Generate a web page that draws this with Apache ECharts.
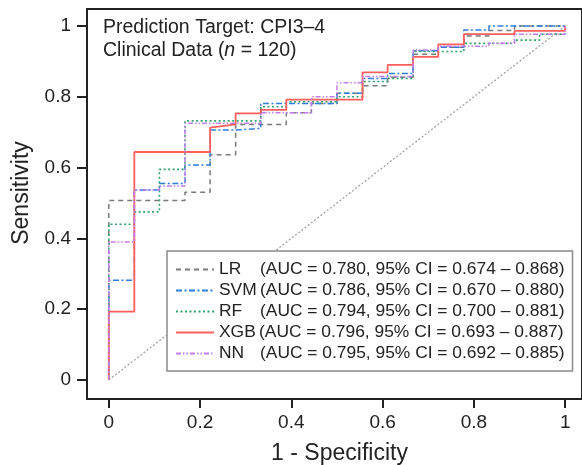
<!DOCTYPE html>
<html><head><meta charset="utf-8">
<script src="https://cdn.jsdelivr.net/npm/echarts@6/dist/echarts.min.js"></script>
<style>html,body{margin:0;padding:0;background:#fff}#c{width:582px;height:465px}</style>
</head><body><div id="c"></div>
<script>
// ---- data ----
const modelNames = ['LR', 'SVM', 'RF', 'XGB', 'NN'];
const aucLabels = [
  '(AUC = 0.780, 95% CI = 0.674 \u2013 0.868)',
  '(AUC = 0.786, 95% CI = 0.670 \u2013 0.880)',
  '(AUC = 0.794, 95% CI = 0.700 \u2013 0.881)',
  '(AUC = 0.796, 95% CI = 0.693 \u2013 0.887)',
  '(AUC = 0.795, 95% CI = 0.692 \u2013 0.885)'
];
const tickValues = [0, 0.2, 0.4, 0.6, 0.8, 1];

const lrFpr = [0,0,0.167,0.167,0.222,0.222,0.278,0.278,0.389,0.389,0.444,0.444,0.5,0.5,0.556,0.556,0.611,0.611,0.667,0.667,0.722,0.722,0.778,0.778,0.833,0.833,0.889,0.889,1];
const lrTpr = [0,0.507,0.507,0.53,0.53,0.636,0.636,0.722,0.722,0.755,0.755,0.781,0.781,0.81,0.81,0.831,0.831,0.855,0.855,0.92,0.92,0.94,0.94,0.972,0.972,0.987,0.987,1,1];

const svmFpr = [0,0,0.056,0.056,0.111,0.111,0.167,0.167,0.222,0.222,0.278,0.278,0.333,0.333,0.5,0.5,0.556,0.556,0.611,0.611,0.667,0.667,0.722,0.722,0.778,0.778,0.833,0.833,1];
const svmTpr = [0,0.282,0.282,0.537,0.537,0.555,0.555,0.607,0.607,0.706,0.706,0.711,0.711,0.781,0.781,0.81,0.81,0.852,0.852,0.866,0.866,0.93,0.93,0.94,0.94,0.989,0.989,1,1];

const rfFpr = [0,0,0.056,0.056,0.111,0.111,0.167,0.167,0.333,0.333,0.389,0.389,0.5,0.5,0.556,0.556,0.611,0.611,0.667,0.667,0.778,0.778,0.889,0.889,0.944,0.944,1,1];
const rfTpr = [0,0.44,0.44,0.475,0.475,0.595,0.595,0.732,0.732,0.772,0.772,0.786,0.786,0.80,0.80,0.843,0.843,0.852,0.852,0.928,0.928,0.951,0.951,0.96,0.96,0.977,0.977,1];

const xgbFpr = [0,0,0.056,0.056,0.222,0.222,0.278,0.278,0.333,0.333,0.389,0.389,0.556,0.556,0.611,0.611,0.667,0.667,0.722,0.722,0.778,0.778,0.889,0.889,1,1];
const xgbTpr = [0,0.193,0.193,0.644,0.644,0.713,0.722,0.753,0.753,0.763,0.763,0.792,0.792,0.869,0.869,0.89,0.89,0.913,0.913,0.948,0.948,0.977,0.977,0.986,0.986,1];

const nnFpr = [0,0,0.056,0.056,0.111,0.111,0.167,0.167,0.333,0.333,0.444,0.444,0.5,0.5,0.556,0.556,0.667,0.667,0.722,0.722,0.833,0.833,0.889,0.889,1,1];
const nnTpr = [0,0.39,0.39,0.537,0.537,0.548,0.548,0.725,0.725,0.755,0.755,0.80,0.80,0.84,0.84,0.857,0.857,0.932,0.932,0.943,0.943,0.951,0.951,0.977,0.977,1];

const chanceFpr = [0, 1];
const chanceTpr = [0, 1];

// ---- styling ----
const FONT = '"Liberation Sans", Arial, Helvetica, sans-serif';
const styles = {
  LR:  { color: '#7a7a7a', width: 1.5, type: [5, 4] },
  SVM: { color: '#2f7de1', width: 1.5, type: [6, 2.5, 2, 2.5] },
  RF:  { color: '#2fa36b', width: 1.6, type: [2, 2.5] },
  XGB: { color: '#ff5e5e', width: 1.8, type: 'solid' },
  NN:  { color: '#c27ef0', width: 1.5, type: [5, 2, 1.5, 2, 1.5, 2] }
};
const fprs = [lrFpr, svmFpr, rfFpr, xgbFpr, nnFpr];
const tprs = [lrTpr, svmTpr, rfTpr, xgbTpr, nnTpr];
const pairs = (xs, ys) => xs.map((x, i) => [x, ys[i]]);

const series = [{
  type: 'line', name: 'chance', data: pairs(chanceFpr, chanceTpr),
  symbol: 'none', silent: true, z: 1,
  lineStyle: { color: '#9c9c9c', width: 1.2, type: [2, 2] }
}];
modelNames.forEach((n, i) => {
  const s = styles[n];
  series.push({
    type: 'line', name: n, data: pairs(fprs[i], tprs[i]),
    symbol: 'none', z: 2 + i,
    itemStyle: { color: s.color },
    lineStyle: { color: s.color, width: s.width, type: s.type }
  });
});

const chart = echarts.init(document.getElementById('c'), null, { renderer: 'canvas' });
const axisCommon = {
  type: 'value',
  splitLine: { show: false },
  axisLine: { show: false, onZero: false },
  axisTick: { show: true, customValues: tickValues, lineStyle: { color: '#222', width: 2 } },
  axisLabel: { customValues: tickValues, color: '#222', fontSize: 19, fontFamily: FONT,
               formatter: v => String(v) }
};
chart.setOption({
  animation: false,
  backgroundColor: '#fff',
  grid: { left: 87, top: 9, width: 500, height: 390, show: true,
          borderColor: '#222', borderWidth: 2, backgroundColor: 'transparent' },
  xAxis: Object.assign({}, axisCommon, {
    min: -0.0477, max: 1.0369,
    axisTick: Object.assign({}, axisCommon.axisTick, { length: 9 }),
    axisLabel: Object.assign({}, axisCommon.axisLabel, { margin: 14 })
  }),
  yAxis: Object.assign({}, axisCommon, {
    min: -0.0537, max: 1.048,
    axisTick: Object.assign({}, axisCommon.axisTick, { length: 10 }),
    axisLabel: Object.assign({}, axisCommon.axisLabel, { margin: 16 })
  }),
  legend: {
    data: modelNames, orient: 'vertical', left: 167, top: 251,
    padding: [8, 8, 7, 8], itemGap: 0, itemWidth: 38, itemHeight: 21,
    backgroundColor: '#fff', borderColor: '#8a8a8a', borderWidth: 1.5, borderRadius: 0,
    itemStyle: { color: 'rgba(0,0,0,0)', borderWidth: 0, opacity: 0 },
    textStyle: {
      color: '#222', fontFamily: FONT, fontSize: 17.4, lineHeight: 21,
      rich: {
        n: { width: 41, fontSize: 17.4, lineHeight: 21, fontFamily: FONT, color: '#222' },
        x: { width: 40, fontSize: 17.4, lineHeight: 21, fontFamily: FONT, color: '#222' },
        r: { fontSize: 17.4, lineHeight: 21, fontFamily: FONT, color: '#222' }
      }
    },
    formatter: name => {
      const i = modelNames.indexOf(name);
      const k = name === 'XGB' ? 'x' : 'n';
      return '{' + k + '|' + name + '}{r|' + aucLabels[i] + '}';
    }
  },
  graphic: [
    { type: 'text', left: 103, top: 18, z: 10,
      style: { text: 'Prediction Target: CPI3\u20134', fill: '#222', font: '19.5px ' + FONT } },
    { type: 'text', left: 103, top: 41, z: 10,
      style: { text: '{a|Clinical Data (}{i|n}{a| = 120)}', fill: '#222', font: '19.5px ' + FONT,
               rich: { a: { fontSize: 19.5, fontFamily: FONT, fill: '#222' },
                       i: { fontSize: 19.5, fontFamily: FONT, fontStyle: 'italic', fill: '#222' } } } },
    { type: 'text', x: 339.5, y: 454, z: 10,
      style: { text: '1 - Specificity', fill: '#222', font: '23px ' + FONT, align: 'center', verticalAlign: 'middle' } },
    { type: 'text', x: 22, y: 193, rotation: Math.PI / 2, z: 10,
      style: { text: 'Sensitivity', fill: '#222', font: '23px ' + FONT, align: 'center', verticalAlign: 'middle' } }
  ],
  series: series
});
</script></body></html>
